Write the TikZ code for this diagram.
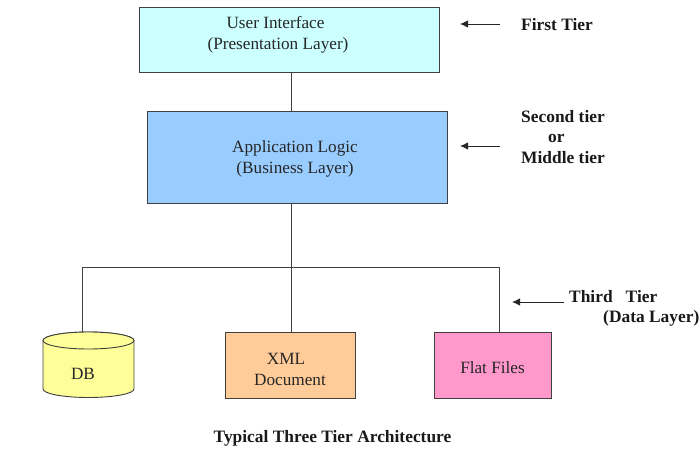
\documentclass[tikz,border=0pt]{standalone}
\usepackage{fontspec}
\setmainfont{Liberation Serif}
\usetikzlibrary{arrows.meta,positioning,calc}
\definecolor{edgegrey}{HTML}{404040}
\definecolor{uicyan}{HTML}{CCFFFF}
\definecolor{logicblue}{HTML}{99CCFF}
\definecolor{dbyellow}{HTML}{FFFF99}
\definecolor{xmlorange}{HTML}{FFCC99}
\definecolor{flatpink}{HTML}{FF99CC}
\tikzset{
    tierbox/.style={draw=edgegrey,line width=0.9pt,anchor=north west,inner sep=0pt},
    boxtext/.style={font=\fontsize{17.2}{21}\selectfont,align=center,text=black!85,inner sep=0pt},
    tiertext/.style={font=\fontsize{17.4}{20.5}\selectfont\bfseries,align=left,anchor=west,text=black!90,inner sep=0pt},
    wire/.style={draw=edgegrey,line width=0.9pt},
    tierarrow/.style={draw=black!85,line width=0.9pt,-{Latex[length=8pt,width=7.5pt]}}
}
\begin{document}
\begin{tikzpicture}[x=1pt,y=-1pt]
    \useasboundingbox (0,0) rectangle (700,449);
    % Boxes
    \node[tierbox,fill=uicyan,minimum width=300pt,minimum height=65pt] (uibox) at (139,7) {};
    \node[tierbox,fill=logicblue,minimum width=300pt,minimum height=92pt] (logicbox) at (147,111) {};
    \node[tierbox,fill=xmlorange,minimum width=130pt,minimum height=66pt] (xmlbox) at (225,332) {};
    \node[tierbox,fill=flatpink,minimum width=117pt,minimum height=66pt] (flatbox) at (434,332) {};
    % Database drum
    \draw[wire,fill=dbyellow] (43,340.5) -- (43,389) arc[start angle=180,end angle=360,x radius=45.5,y radius=-8.5]
        -- (134,340.5) arc[start angle=0,end angle=180,x radius=45.5,y radius=-8.5];
    \draw[wire,fill=dbyellow] (88.5,340.5) ellipse[x radius=45.5,y radius=8.5];
    \coordinate (dbtop) at (82,332);

    % Text in the boxes
    \node[boxtext] (uitext) at (278,34.5) {\mbox{User Interface\hspace{5pt}}\\(Presentation Layer)};
    \node[boxtext] (logictext) at (295,159) {Application Logic\\(Business Layer)};
    \node[boxtext] (dbtext) at (83,374) {DB};
    \node[boxtext] (xmltext) at (290,369.5) {\mbox{XML\hspace{8pt}}\\Document};
    \node[boxtext] (flattext) at (492.5,368) {Flat Files};

    % Wires
    \coordinate (busleft) at (82,267);
    \coordinate (busmid) at (291,267);
    \coordinate (busright) at (499,267);
    \draw[wire] (uibox.south -| busmid) -- (logicbox.north -| busmid);
    \draw[wire] (logicbox.south -| busmid) -- (busmid);
    \draw[wire] (dbtop) -- (busleft) -- (busright) -- (flatbox.north -| busright);
    \draw[wire] (busmid) -- (xmlbox.north -| busmid);

    % Tier labels
    \node[tiertext] (firsttier) at (521,24.5) {First Tier};
    \node[tiertext] (secondtier) at (521,137) {Second tier\\\hspace{27pt}or\\Middle tier};
    \node[tiertext] (thirdtier) at (569,308.5) {Third\hspace{13pt}Tier\\\hspace{34pt}(Data Layer)};

    % Arrows towards the layers
    \coordinate (firstfrom) at (500,24);
    \coordinate (firstto) at (460,24);
    \coordinate (secondfrom) at (500,146);
    \coordinate (secondto) at (460,146);
    \coordinate (thirdfrom) at (564,302);
    \coordinate (thirdto) at (512,302);
    \draw[tierarrow] (firstfrom) -- (firstto);
    \draw[tierarrow] (secondfrom) -- (secondto);
    \draw[tierarrow] (thirdfrom) -- (thirdto);

    % Caption
    \node[tiertext,anchor=center] (caption) at (332.5,438) {Typical Three Tier Architecture};
\end{tikzpicture}
\end{document}
